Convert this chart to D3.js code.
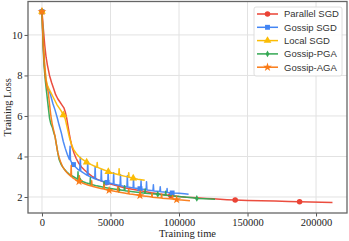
<!DOCTYPE html>
<html><head><meta charset="utf-8">
<script src="https://cdn.jsdelivr.net/npm/d3@7"></script>
<style>body{margin:0;background:#fff}svg{display:block}</style>
</head><body>
<svg id="c" width="349" height="241"></svg>
<script>
// ---- data ----
const seriesNames = ["Parallel SGD","Gossip SGD","Local SGD","Gossip-PGA","Gossip-AGA"];
const xTicks = [0,50000,100000,150000,200000];
const yTicks = [2,4,6,8,10];

const parallelSGD = [[0,11.15],[1000,10.3],[2000,9.5],[3000,8.9],[4000,8.5],[5500,8.0],[7000,7.65],[8500,7.35],[10000,7.05],[11500,6.85],[13000,6.7],[14500,6.55],[16000,6.4],[17000,6.2],[18000,5.9],[19000,5.5],[20000,5.1],[21000,4.75],[22000,4.45],[23500,4.15],[25000,3.9],[27000,3.65],[29000,3.47],[31000,3.33],[34000,3.15],[37000,3.0],[40000,2.88],[44000,2.77],[48000,2.68],[52000,2.6],[56000,2.53],[60000,2.46],[65000,2.4],[70000,2.33],[75000,2.27],[80000,2.21],[85000,2.16],[90000,2.11],[95000,2.06],[100000,2.02],[105000,1.99],[110000,1.97],[115000,1.95],[120000,1.93],[125000,1.91],[130000,1.89],[135000,1.87],[141000,1.85],[150000,1.83],[160000,1.81],[170000,1.8],[180000,1.78],[188000,1.77],[196000,1.75],[204000,1.74],[212000,1.73]];

const gossipSGD = [[0,11.15],[1000,9.4],[2000,8.4],[3000,7.7],[4000,7.45],[5000,7.3],[6000,7.1],[7000,6.85],[8000,6.6],[9500,6.3],[11000,5.95],[12500,5.55],[14000,5.2],[15500,4.75],[17000,4.4],[18500,4.1],[20000,3.85],[20500,4.5],[20800,3.82],[21500,3.72],[23000,3.6],[24500,3.48],[26000,3.38],[27500,3.3],[28000,3.95],[28300,3.28],[30000,3.2],[33000,3.07],[33400,3.75],[33700,3.05],[36000,2.98],[38500,2.9],[38800,3.5],[39100,2.89],[42000,2.82],[43000,2.8],[43300,3.35],[43600,2.79],[47500,2.72],[48000,2.71],[48300,3.3],[48600,2.7],[52000,2.64],[52300,3.2],[52600,2.63],[57000,2.57],[57300,3.1],[57600,2.56],[62000,2.5],[62300,3.05],[62600,2.49],[66500,2.45],[66800,2.9],[67100,2.44],[71500,2.41],[72000,2.4],[72300,2.8],[72600,2.39],[76000,2.36],[76300,2.75],[76600,2.35],[81000,2.31],[81300,2.6],[81600,2.3],[86000,2.27],[86300,2.5],[86600,2.26],[91000,2.23],[91300,2.42],[91600,2.22],[95000,2.2],[100000,2.18],[104000,2.16],[107000,2.14]];

const localSGD = [[0,11.15],[1000,9.6],[2000,8.5],[3000,7.8],[4000,7.5],[5000,7.35],[6500,7.15],[8000,6.95],[9500,6.75],[11000,6.55],[12500,6.4],[14000,6.25],[15600,6.05],[17000,5.85],[18500,5.4],[20000,4.95],[21500,4.6],[23000,4.35],[25000,4.15],[27000,4.0],[29000,3.88],[32600,3.72],[36000,3.6],[40000,3.47],[40300,3.7],[40600,3.46],[44000,3.37],[48400,3.25],[52000,3.17],[56000,3.1],[56300,3.4],[56600,3.09],[60000,3.03],[63000,2.98],[63300,3.2],[63600,2.97],[66600,2.93],[70000,2.88],[75000,2.83]];

const gossipPGA = [[0,11.15],[800,9.5],[1500,8.5],[2500,7.7],[3500,7.1],[4500,6.5],[5500,5.9],[6500,5.6],[7500,5.45],[8500,5.2],[9500,5.0],[10500,4.6],[11500,4.2],[12500,3.85],[14000,3.6],[16000,3.4],[18000,3.25],[20000,3.12],[23000,3.0],[26000,2.88],[26300,3.25],[26600,2.87],[28000,2.8],[32000,2.7],[35000,2.64],[35300,2.95],[35600,2.63],[40000,2.55],[45000,2.48],[45300,2.75],[45600,2.47],[50000,2.42],[56000,2.36],[60000,2.32],[60300,2.55],[60600,2.31],[68000,2.25],[74000,2.2],[75000,2.19],[75300,2.4],[75600,2.18],[80000,2.16],[84500,2.13],[90000,2.09],[90300,2.28],[90600,2.08],[98000,2.04],[104000,2.0],[110000,1.96],[113000,1.93],[120000,1.91],[126300,1.89]];

const gossipAGA = [[0,11.15],[800,9.6],[1500,8.7],[2500,7.9],[3500,7.45],[4500,7.2],[5500,6.6],[6500,6.0],[7500,5.6],[8500,5.3],[9500,5.0],[10500,4.6],[11500,4.2],[12500,3.95],[13500,3.75],[15000,3.5],[17000,3.3],[19000,3.15],[21000,3.02],[21300,3.55],[21600,3.0],[23000,2.92],[25000,2.84],[27000,2.77],[27300,3.05],[27600,2.76],[30000,2.68],[34000,2.58],[36000,2.54],[36300,2.8],[36600,2.53],[43000,2.42],[45000,2.39],[45300,2.62],[45600,2.38],[49000,2.33],[54000,2.27],[55000,2.26],[55300,2.5],[55600,2.25],[60000,2.2],[63000,2.16],[63300,2.4],[63600,2.15],[66000,2.13],[71500,2.07],[71800,2.3],[72100,2.06],[78000,2.02],[80000,2.0],[80300,2.2],[80600,1.99],[87000,1.95],[87300,2.13],[87600,1.94],[93000,1.91],[95000,1.9],[95300,2.07],[95600,1.89],[98300,1.87],[102000,1.85],[108000,1.82]];

const parallelMarks = [[0,11.15],[47000,2.7],[94000,2.07],[141000,1.85],[188000,1.77]];
const gossipMarks = [[0,11.15],[23000,3.6],[47500,2.72],[71500,2.41],[95000,2.2]];
const localMarks = [[0,11.15],[15600,6.05],[32600,3.72],[48400,3.25],[66600,2.93]];
const pgaMarks = [[0,11.15],[28000,2.8],[56000,2.36],[84500,2.13],[113000,1.93]];
const agaMarks = [[0,11.15],[27000,2.77],[49000,2.33],[71500,2.07],[98300,1.87]];

const colors = ["#EA4335","#4285F4","#FBBC05","#34A853","#FA7B17"];
const symbols = ["circle","square","triangle","thin","star"];

// ---- chart ----
const svg = d3.select("#c");
const L = 28, R = 347, T = 1.5, B = 213;
const x = d3.scaleLinear().domain([-10200, 222600]).range([L, R]);
const y = d3.scaleLinear().domain([1.21, 11.65]).range([B, T]);

// grid
svg.append("g").selectAll("line").data(xTicks).join("line")
  .attr("x1", d=>x(d)).attr("x2", d=>x(d)).attr("y1", T).attr("y2", B)
  .attr("stroke", "#e2e2e2").attr("stroke-width", 1);
svg.append("g").selectAll("line").data(yTicks).join("line")
  .attr("y1", d=>y(d)).attr("y2", d=>y(d)).attr("x1", L).attr("x2", R)
  .attr("stroke", "#e2e2e2").attr("stroke-width", 1);

// axes
const xAxis = svg.append("g").attr("transform", `translate(0,${B})`)
  .call(d3.axisBottom(x).tickValues(xTicks).tickFormat(d3.format("d")).tickSize(3.5).tickPadding(2));
const yAxis = svg.append("g").attr("transform", `translate(${L},0)`)
  .call(d3.axisLeft(y).tickValues(yTicks).tickSize(3.5).tickPadding(2));
[xAxis, yAxis].forEach(a => {
  a.select(".domain").remove();
  a.selectAll("line").attr("stroke", "#555");
  a.selectAll("text").attr("font-family", "Liberation Serif, serif").attr("font-size", 10.5).attr("fill", "#222");
});

// series
const allSeries = [parallelSGD, gossipSGD, localSGD, gossipPGA, gossipAGA];
const allMarks = [parallelMarks, gossipMarks, localMarks, pgaMarks, agaMarks];
const line = d3.line().x(d=>x(d[0])).y(d=>y(d[1]));
const plot = svg.append("g");

function markerPath(kind) {
  if (kind === "circle") return d3.symbol(d3.symbolCircle, 24)();
  if (kind === "square") return d3.symbol(d3.symbolSquare, 24)();
  if (kind === "triangle") return d3.symbol(d3.symbolTriangle, 26)();
  if (kind === "star") return d3.symbol(d3.symbolStar, 24)();
  return "M0,-3.4L1.9,0L0,3.4L-1.9,0Z";
}

allSeries.forEach((s, i) => {
  plot.append("path").datum(s).attr("d", line)
    .attr("fill", "none").attr("stroke", colors[i]).attr("stroke-width", 1.5)
    .attr("stroke-linejoin", "round").attr("stroke-opacity", 0.95);
  plot.append("g").selectAll("path").data(allMarks[i]).join("path")
    .attr("transform", d => `translate(${x(d[0])},${y(d[1])})`)
    .attr("d", markerPath(symbols[i])).attr("fill", colors[i]);
});

// frame
svg.append("rect").attr("x", L).attr("y", T).attr("width", R-L).attr("height", B-T)
  .attr("fill", "none").attr("stroke", "#666").attr("stroke-width", 1.3);

// labels
svg.append("text").attr("x", (L+R)/2).attr("y", 236.5).attr("text-anchor", "middle")
  .attr("font-family", "Liberation Serif, serif").attr("font-size", 10.5).attr("fill", "#222")
  .text("Training time");
svg.append("text").attr("transform", `translate(10.5,${(T+B)/2}) rotate(-90)`).attr("text-anchor", "middle")
  .attr("font-family", "Liberation Serif, serif").attr("font-size", 10.5).attr("fill", "#222")
  .text("Training Loss");

// legend
const lg = svg.append("g");
lg.append("rect").attr("x", 254).attr("y", 7).attr("width", 88).attr("height", 69).attr("rx", 2)
  .attr("fill", "#fff").attr("fill-opacity", 0.85).attr("stroke", "#d5d5d5").attr("stroke-width", 0.8);
seriesNames.forEach((n, i) => {
  const yy = 14 + i * 13.3;
  lg.append("line").attr("x1", 257).attr("x2", 278).attr("y1", yy).attr("y2", yy)
    .attr("stroke", colors[i]).attr("stroke-width", 1.5);
  lg.append("path").attr("transform", `translate(267.5,${yy})`).attr("d", markerPath(symbols[i])).attr("fill", colors[i]);
  lg.append("text").attr("x", 284).attr("y", yy).attr("dy", "0.35em")
    .attr("font-family", "Liberation Sans, Arial, sans-serif").attr("font-size", 9.5).attr("fill", "#333")
    .text(n);
});
</script>
</body></html>
